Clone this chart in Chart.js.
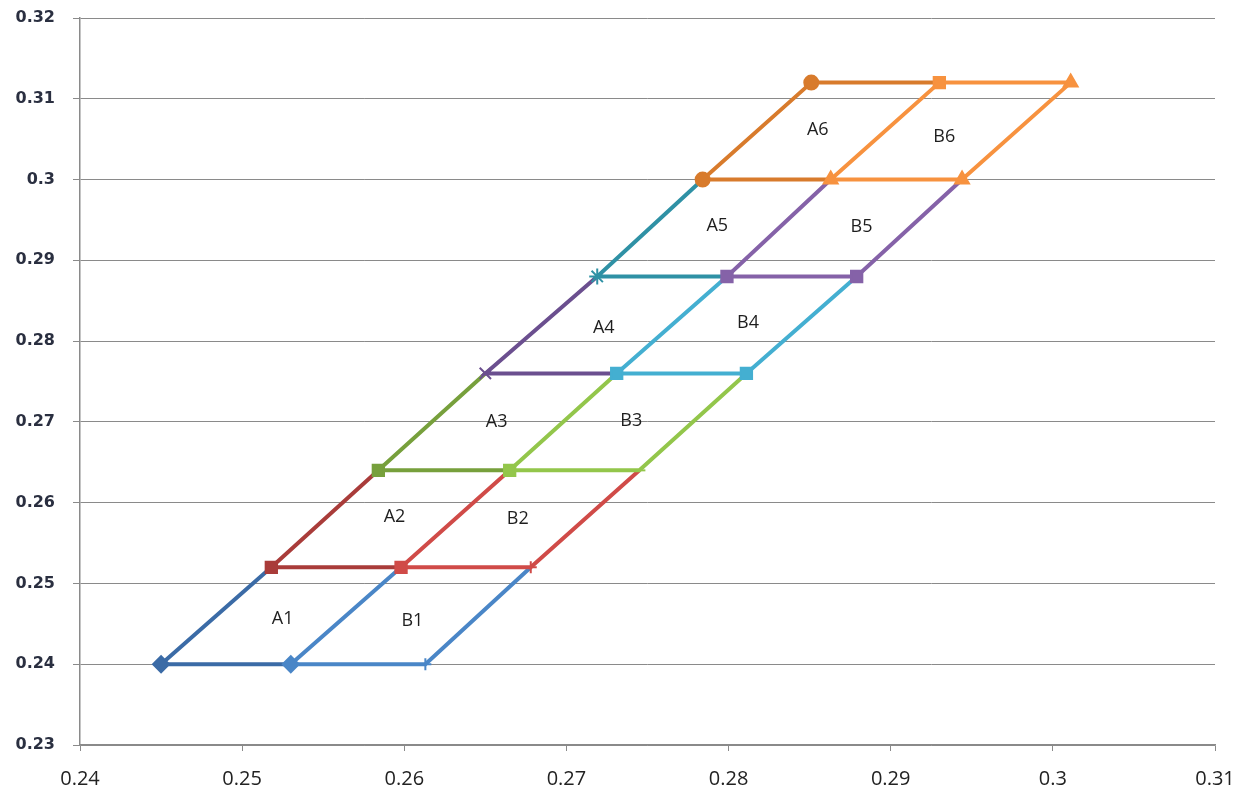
<!DOCTYPE html>
<html>
<head>
<meta charset="utf-8">
<script src="https://cdn.jsdelivr.net/npm/chart.js@4.4.0/dist/chart.umd.min.js"></script>
<style>
  body { margin: 0; background: #fff; }
  canvas { display: block; }
</style>
</head>
<body>
<canvas id="grid" width="1247" height="799"></canvas>
<script>
// y value of each horizontal row
const levels = [0.24, 0.252, 0.264, 0.276, 0.288, 0.3, 0.312];
// x value of the three points on each row (left, middle, right)
const colA = [0.245, 0.2518, 0.2584, 0.265, 0.2719, 0.2784, 0.2851];
const colB = [0.253, 0.2598, 0.2665, 0.2731, 0.2799, 0.2863, 0.293];
const colC = [0.2613, 0.2678, 0.2745, 0.2811, 0.2879, 0.2944, 0.3011];

// cell labels
const cellNames = ['A1', 'B1', 'A2', 'B2', 'A3', 'B3', 'A4', 'B4', 'A5', 'B5', 'A6', 'B6'];
const cellX = [0.2525, 0.2605, 0.2594, 0.267, 0.2657, 0.274, 0.2723, 0.2812, 0.2793, 0.2882, 0.2855, 0.2933];
const cellY = [0.2456, 0.2454, 0.2582, 0.258, 0.27, 0.2701, 0.2816, 0.2822, 0.2943, 0.2941, 0.3061, 0.3053];

const xTicks = [0.24, 0.25, 0.26, 0.27, 0.28, 0.29, 0.3, 0.31];
const yTicks = [0.23, 0.24, 0.25, 0.26, 0.27, 0.28, 0.29, 0.3, 0.31, 0.32];

// colours and markers per row
const darkCol = ['#3b6ba6', '#a93c3a', '#77a03c', '#6b4f8f', '#2f91a5', '#d87b2c', '#d87b2c'];
const lightCol = ['#4a86c7', '#d04b48', '#93c64b', '#44afd1', '#8562a8', '#f7923f', '#f7923f'];
const markA = ['rectRot', 'rect', 'rect', 'crossRot', 'star', 'circle', 'circle'];
const markB = ['rectRot', 'rect', 'rect', 'rect', 'rect', 'triangle', 'rect'];
const markC = ['cross', 'cross', 'line', 'rect', 'rect', 'triangle', 'triangle'];

const datasets = [];
function addSeries(points, styles, radii, color) {
    datasets.push({
        data: points,
        showLine: true,
        borderColor: color,
        backgroundColor: color,
        pointBorderColor: color,
        pointBackgroundColor: color,
        borderWidth: 4,
        pointStyle: styles,
        pointRadius: radii,
        pointBorderWidth: 2,
        tension: 0,
        order: 100 - datasets.length
    });
}

levels.forEach((y, i) => {
    const top = i < levels.length - 1;
    // left series: up-diagonal, then row to the middle point
    const ptsA = [], stA = [], rA = [];
    if (top) { ptsA.push({ x: colA[i + 1], y: levels[i + 1] }); stA.push('circle'); rA.push(0); }
    ptsA.push({ x: colA[i], y: y }); stA.push(markA[i]); rA.push(markA[i] === 'circle' ? 7 : 8);
    ptsA.push({ x: colB[i], y: y }); stA.push('circle'); rA.push(0);
    addSeries(ptsA, stA, rA, darkCol[i]);

    // right series
    const ptsB = [], stB = [], rB = [];
    if (top) { ptsB.push({ x: colB[i + 1], y: levels[i + 1] }); stB.push('circle'); rB.push(0); }
    ptsB.push({ x: colB[i], y: y }); stB.push(markB[i]); rB.push(8);
    ptsB.push({ x: colC[i], y: y }); stB.push(markC[i]); rB.push(i < 3 ? 6 : 8);
    if (top) { ptsB.push({ x: colC[i + 1], y: levels[i + 1] }); stB.push('circle'); rB.push(0); }
    addSeries(ptsB, stB, rB, lightCol[i]);
});

const cellLabels = {
    id: 'cellLabels',
    afterDatasetsDraw(chart) {
        const ctx = chart.ctx;
        const xs = chart.scales.x, ys = chart.scales.y;
        ctx.save();
        ctx.font = '18px "Open Sans", sans-serif';
        ctx.fillStyle = '#1e1e1e';
        ctx.textAlign = 'center';
        ctx.textBaseline = 'middle';
        cellNames.forEach((name, i) => {
            ctx.fillText(name, xs.getPixelForValue(cellX[i]), ys.getPixelForValue(cellY[i]));
        });
        ctx.restore();
    }
};

new Chart(document.getElementById('grid'), {
    type: 'scatter',
    data: { datasets: datasets },
    options: {
        responsive: false,
        animation: false,
        layout: { padding: { top: 18, right: 32, left: 0, bottom: 0 } },
        plugins: { legend: { display: false }, tooltip: { enabled: false } },
        scales: {
            x: {
                type: 'linear',
                min: 0.24,
                max: 0.31,
                afterBuildTicks: s => { s.ticks = xTicks.map(v => ({ value: v })); },
                afterFit: s => { s.height = 54; s.paddingLeft = 0; s.paddingRight = 0; },
                grid: { drawOnChartArea: false, drawTicks: true, tickLength: 6, color: '#8a8a8a' },
                border: { color: '#8a8a8a', width: 1.5 },
                ticks: {
                    padding: 16,
                    color: '#222',
                    font: { family: '"Liberation Sans Narrow", "Open Sans", sans-serif', size: 20 },
                    callback: v => String(+v.toFixed(2)),
                    maxRotation: 0
                }
            },
            y: {
                type: 'linear',
                min: 0.23,
                max: 0.32,
                afterBuildTicks: s => { s.ticks = yTicks.map(v => ({ value: v })); },
                afterFit: s => { s.width = 80; s.paddingTop = 0; s.paddingBottom = 0; },
                grid: { drawTicks: true, tickLength: 7, color: '#8a8a8a', lineWidth: 1 },
                border: { color: '#8a8a8a', width: 1.5 },
                ticks: {
                    padding: 18,
                    color: '#2a2f40',
                    font: { family: '"DejaVu Sans", sans-serif', size: 16, weight: 'bold' },
                    callback: v => String(+v.toFixed(2))
                }
            }
        }
    },
    plugins: [cellLabels]
});
</script>
</body>
</html>
